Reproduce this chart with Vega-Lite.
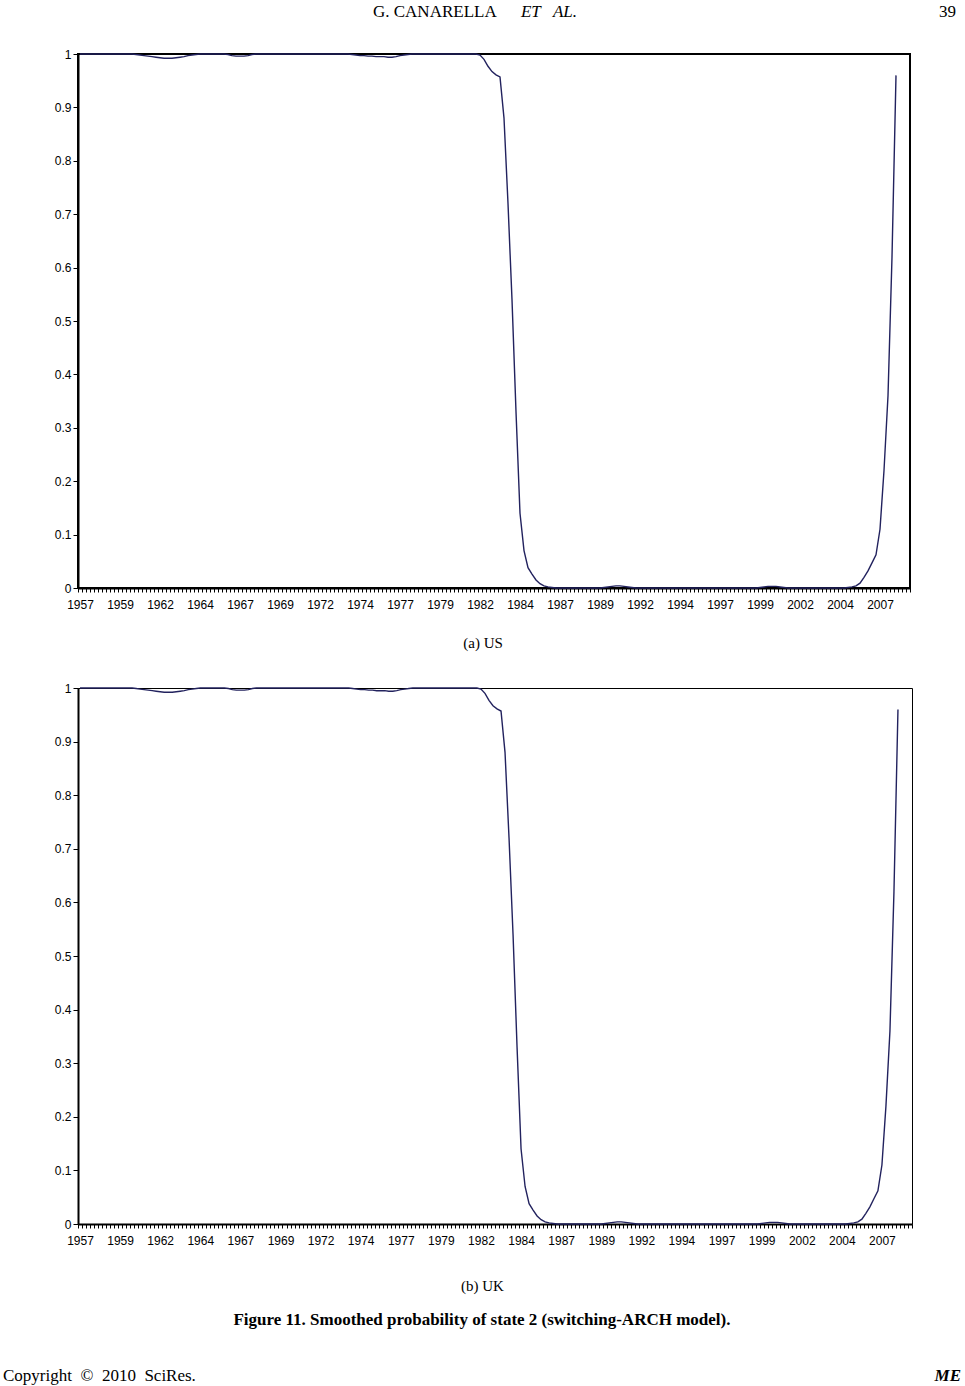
{
"$schema": "https://vega.github.io/schema/vega-lite/v6.json",
"background": "white",
"padding": {"left": 2, "top": 2, "right": 0, "bottom": 0},
"bounds": "flush",
"spacing": 100,
"config": {
 "axis": {"domainColor": "black", "domainWidth": 2, "tickColor": "black", "labelColor": "black", "labelFont": "Liberation Sans", "labelFontSize": 12, "grid": false, "title": null},
 "text": {"color": "black", "baseline": "alphabetic", "font": "Liberation Serif"}
},
"datasets": {
 "p": [
{"t":1957,"us":1,"uk":1},{"t":1957.25,"us":1,"uk":1},{"t":1957.5,"us":1,"uk":1},{"t":1957.75,"us":1,"uk":1},
{"t":1958,"us":1,"uk":1},{"t":1958.25,"us":1,"uk":1},{"t":1958.5,"us":1,"uk":1},{"t":1958.75,"us":1,"uk":1},
{"t":1959,"us":1,"uk":1},{"t":1959.25,"us":1,"uk":1},{"t":1959.5,"us":1,"uk":1},{"t":1959.75,"us":1,"uk":1},
{"t":1960,"us":1,"uk":1},{"t":1960.25,"us":1,"uk":1},{"t":1960.5,"us":0.999,"uk":0.999},{"t":1960.75,"us":0.998,"uk":0.998},
{"t":1961,"us":0.997,"uk":0.997},{"t":1961.25,"us":0.996,"uk":0.996},{"t":1961.5,"us":0.995,"uk":0.995},{"t":1961.75,"us":0.994,"uk":0.994},
{"t":1962,"us":0.993,"uk":0.993},{"t":1962.25,"us":0.992,"uk":0.992},{"t":1962.5,"us":0.992,"uk":0.992},{"t":1962.75,"us":0.992,"uk":0.992},
{"t":1963,"us":0.993,"uk":0.993},{"t":1963.25,"us":0.994,"uk":0.994},{"t":1963.5,"us":0.995,"uk":0.995},{"t":1963.75,"us":0.997,"uk":0.997},
{"t":1964,"us":0.998,"uk":0.998},{"t":1964.25,"us":0.999,"uk":0.999},{"t":1964.5,"us":1,"uk":1},{"t":1964.75,"us":1,"uk":1},
{"t":1965,"us":1,"uk":1},{"t":1965.25,"us":1,"uk":1},{"t":1965.5,"us":1,"uk":1},{"t":1965.75,"us":1,"uk":1},
{"t":1966,"us":1,"uk":1},{"t":1966.25,"us":0.999,"uk":0.999},{"t":1966.5,"us":0.997,"uk":0.997},{"t":1966.75,"us":0.996,"uk":0.996},
{"t":1967,"us":0.996,"uk":0.996},{"t":1967.25,"us":0.996,"uk":0.996},{"t":1967.5,"us":0.997,"uk":0.997},{"t":1967.75,"us":0.999,"uk":0.999},
{"t":1968,"us":1,"uk":1},{"t":1968.25,"us":1,"uk":1},{"t":1968.5,"us":1,"uk":1},{"t":1968.75,"us":1,"uk":1},
{"t":1969,"us":1,"uk":1},{"t":1969.25,"us":1,"uk":1},{"t":1969.5,"us":1,"uk":1},{"t":1969.75,"us":1,"uk":1},
{"t":1970,"us":1,"uk":1},{"t":1970.25,"us":1,"uk":1},{"t":1970.5,"us":1,"uk":1},{"t":1970.75,"us":1,"uk":1},
{"t":1971,"us":1,"uk":1},{"t":1971.25,"us":1,"uk":1},{"t":1971.5,"us":1,"uk":1},{"t":1971.75,"us":1,"uk":1},
{"t":1972,"us":1,"uk":1},{"t":1972.25,"us":1,"uk":1},{"t":1972.5,"us":1,"uk":1},{"t":1972.75,"us":1,"uk":1},
{"t":1973,"us":1,"uk":1},{"t":1973.25,"us":1,"uk":1},{"t":1973.5,"us":1,"uk":1},{"t":1973.75,"us":1,"uk":1},
{"t":1974,"us":0.999,"uk":0.999},{"t":1974.25,"us":0.998,"uk":0.998},{"t":1974.5,"us":0.997,"uk":0.997},{"t":1974.75,"us":0.997,"uk":0.997},
{"t":1975,"us":0.996,"uk":0.996},{"t":1975.25,"us":0.996,"uk":0.996},{"t":1975.5,"us":0.995,"uk":0.995},{"t":1975.75,"us":0.995,"uk":0.995},
{"t":1976,"us":0.995,"uk":0.995},{"t":1976.25,"us":0.994,"uk":0.994},{"t":1976.5,"us":0.994,"uk":0.994},{"t":1976.75,"us":0.995,"uk":0.995},
{"t":1977,"us":0.997,"uk":0.997},{"t":1977.25,"us":0.998,"uk":0.998},{"t":1977.5,"us":0.999,"uk":0.999},{"t":1977.75,"us":1,"uk":1},
{"t":1978,"us":1,"uk":1},{"t":1978.25,"us":1,"uk":1},{"t":1978.5,"us":1,"uk":1},{"t":1978.75,"us":1,"uk":1},
{"t":1979,"us":1,"uk":1},{"t":1979.25,"us":1,"uk":1},{"t":1979.5,"us":1,"uk":1},{"t":1979.75,"us":1,"uk":1},
{"t":1980,"us":1,"uk":1},{"t":1980.25,"us":1,"uk":1},{"t":1980.5,"us":1,"uk":1},{"t":1980.75,"us":1,"uk":1},
{"t":1981,"us":1,"uk":1},{"t":1981.25,"us":1,"uk":1},{"t":1981.5,"us":1,"uk":1},{"t":1981.75,"us":1,"uk":1},
{"t":1982,"us":0.998,"uk":0.998},{"t":1982.25,"us":0.99,"uk":0.99},{"t":1982.5,"us":0.977,"uk":0.977},{"t":1982.75,"us":0.967,"uk":0.967},
{"t":1983,"us":0.961,"uk":0.961},{"t":1983.25,"us":0.957,"uk":0.957},{"t":1983.5,"us":0.88,"uk":0.88},{"t":1983.75,"us":0.72,"uk":0.72},
{"t":1984,"us":0.54,"uk":0.54},{"t":1984.25,"us":0.33,"uk":0.33},{"t":1984.5,"us":0.14,"uk":0.14},{"t":1984.75,"us":0.07,"uk":0.07},
{"t":1985,"us":0.038,"uk":0.038},{"t":1985.25,"us":0.026,"uk":0.026},{"t":1985.5,"us":0.015,"uk":0.015},{"t":1985.75,"us":0.008,"uk":0.008},
{"t":1986,"us":0.004,"uk":0.004},{"t":1986.25,"us":0.002,"uk":0.002},{"t":1986.5,"us":0.001,"uk":0.001},{"t":1986.75,"us":0,"uk":0},
{"t":1987,"us":0,"uk":0},{"t":1987.25,"us":0,"uk":0},{"t":1987.5,"us":0,"uk":0},{"t":1987.75,"us":0,"uk":0},
{"t":1988,"us":0,"uk":0},{"t":1988.25,"us":0,"uk":0},{"t":1988.5,"us":0,"uk":0},{"t":1988.75,"us":0,"uk":0},
{"t":1989,"us":0,"uk":0},{"t":1989.25,"us":0,"uk":0},{"t":1989.5,"us":0,"uk":0},{"t":1989.75,"us":0.001,"uk":0.001},
{"t":1990,"us":0.002,"uk":0.002},{"t":1990.25,"us":0.003,"uk":0.003},{"t":1990.5,"us":0.004,"uk":0.004},{"t":1990.75,"us":0.004,"uk":0.004},
{"t":1991,"us":0.003,"uk":0.003},{"t":1991.25,"us":0.002,"uk":0.002},{"t":1991.5,"us":0.001,"uk":0.001},{"t":1991.75,"us":0,"uk":0},
{"t":1992,"us":0,"uk":0},{"t":1992.25,"us":0,"uk":0},{"t":1992.5,"us":0,"uk":0},{"t":1992.75,"us":0,"uk":0},
{"t":1993,"us":0,"uk":0},{"t":1993.25,"us":0,"uk":0},{"t":1993.5,"us":0,"uk":0},{"t":1993.75,"us":0,"uk":0},
{"t":1994,"us":0,"uk":0},{"t":1994.25,"us":0,"uk":0},{"t":1994.5,"us":0,"uk":0},{"t":1994.75,"us":0,"uk":0},
{"t":1995,"us":0,"uk":0},{"t":1995.25,"us":0,"uk":0},{"t":1995.5,"us":0,"uk":0},{"t":1995.75,"us":0,"uk":0},
{"t":1996,"us":0,"uk":0},{"t":1996.25,"us":0,"uk":0},{"t":1996.5,"us":0,"uk":0},{"t":1996.75,"us":0,"uk":0},
{"t":1997,"us":0,"uk":0},{"t":1997.25,"us":0,"uk":0},{"t":1997.5,"us":0,"uk":0},{"t":1997.75,"us":0,"uk":0},
{"t":1998,"us":0,"uk":0},{"t":1998.25,"us":0,"uk":0},{"t":1998.5,"us":0,"uk":0},{"t":1998.75,"us":0,"uk":0},
{"t":1999,"us":0,"uk":0},{"t":1999.25,"us":0,"uk":0},{"t":1999.5,"us":0.001,"uk":0.001},{"t":1999.75,"us":0.002,"uk":0.002},
{"t":2000,"us":0.003,"uk":0.003},{"t":2000.25,"us":0.003,"uk":0.003},{"t":2000.5,"us":0.003,"uk":0.003},{"t":2000.75,"us":0.002,"uk":0.002},
{"t":2001,"us":0.001,"uk":0.001},{"t":2001.25,"us":0,"uk":0},{"t":2001.5,"us":0,"uk":0},{"t":2001.75,"us":0,"uk":0},
{"t":2002,"us":0,"uk":0},{"t":2002.25,"us":0,"uk":0},{"t":2002.5,"us":0,"uk":0},{"t":2002.75,"us":0,"uk":0},
{"t":2003,"us":0,"uk":0},{"t":2003.25,"us":0,"uk":0},{"t":2003.5,"us":0,"uk":0},{"t":2003.75,"us":0,"uk":0},
{"t":2004,"us":0,"uk":0},{"t":2004.25,"us":0,"uk":0},{"t":2004.5,"us":0,"uk":0},{"t":2004.75,"us":0,"uk":0},
{"t":2005,"us":0.001,"uk":0.001},{"t":2005.25,"us":0.002,"uk":0.002},{"t":2005.5,"us":0.004,"uk":0.004},{"t":2005.75,"us":0.009,"uk":0.009},
{"t":2006,"us":0.02,"uk":0.02},{"t":2006.25,"us":0.032,"uk":0.032},{"t":2006.5,"us":0.047,"uk":0.047},{"t":2006.75,"us":0.062,"uk":0.062},
{"t":2007,"us":0.11,"uk":0.11},{"t":2007.25,"us":0.22,"uk":0.22},{"t":2007.5,"us":0.36,"uk":0.36},{"t":2007.75,"us":0.62,"uk":0.62},
{"t":2008,"us":0.96,"uk":0.96}
 ]
},
"vconcat": [
 {
  "width": 832, "height": 534,
  "view": {"stroke": "black", "strokeWidth": 2},
  "layer": [
   {
    "data": {"name": "p"},
    "mark": {"type": "line", "color": "#22225e", "strokeWidth": 1.4, "clip": false},
    "encoding": {
     "x": {"field": "t", "type": "quantitative",
      "scale": {"domain": [1956.875, 2008.875], "nice": false, "zero": false},
      "axis": {"values": [1956.875,1957.125,1957.375,1957.625,1957.875,1958.125,1958.375,1958.625,1958.875,1959.125,1959.375,1959.625,1959.875,1960.125,1960.375,1960.625,1960.875,1961.125,1961.375,1961.625,1961.875,1962.125,1962.375,1962.625,1962.875,1963.125,1963.375,1963.625,1963.875,1964.125,1964.375,1964.625,1964.875,1965.125,1965.375,1965.625,1965.875,1966.125,1966.375,1966.625,1966.875,1967.125,1967.375,1967.625,1967.875,1968.125,1968.375,1968.625,1968.875,1969.125,1969.375,1969.625,1969.875,1970.125,1970.375,1970.625,1970.875,1971.125,1971.375,1971.625,1971.875,1972.125,1972.375,1972.625,1972.875,1973.125,1973.375,1973.625,1973.875,1974.125,1974.375,1974.625,1974.875,1975.125,1975.375,1975.625,1975.875,1976.125,1976.375,1976.625,1976.875,1977.125,1977.375,1977.625,1977.875,1978.125,1978.375,1978.625,1978.875,1979.125,1979.375,1979.625,1979.875,1980.125,1980.375,1980.625,1980.875,1981.125,1981.375,1981.625,1981.875,1982.125,1982.375,1982.625,1982.875,1983.125,1983.375,1983.625,1983.875,1984.125,1984.375,1984.625,1984.875,1985.125,1985.375,1985.625,1985.875,1986.125,1986.375,1986.625,1986.875,1987.125,1987.375,1987.625,1987.875,1988.125,1988.375,1988.625,1988.875,1989.125,1989.375,1989.625,1989.875,1990.125,1990.375,1990.625,1990.875,1991.125,1991.375,1991.625,1991.875,1992.125,1992.375,1992.625,1992.875,1993.125,1993.375,1993.625,1993.875,1994.125,1994.375,1994.625,1994.875,1995.125,1995.375,1995.625,1995.875,1996.125,1996.375,1996.625,1996.875,1997.125,1997.375,1997.625,1997.875,1998.125,1998.375,1998.625,1998.875,1999.125,1999.375,1999.625,1999.875,2000.125,2000.375,2000.625,2000.875,2001.125,2001.375,2001.625,2001.875,2002.125,2002.375,2002.625,2002.875,2003.125,2003.375,2003.625,2003.875,2004.125,2004.375,2004.625,2004.875,2005.125,2005.375,2005.625,2005.875,2006.125,2006.375,2006.625,2006.875,2007.125,2007.375,2007.625,2007.875,2008.125,2008.375,2008.625,2008.875],
       "tickCount": 1000,
       "labelExpr": "((datum.value + 0.125 - 1957) % 2.5 == 0) ? ('' + floor(datum.value + 0.125)) : ''",
       "labelOffset": 2, "labelFlush": false, "labelOverlap": false, "labelBound": false,
       "tickSize": 4, "labelPadding": 7}},
     "y": {"field": "us", "type": "quantitative",
      "scale": {"domain": [0, 1], "nice": false, "zero": false},
      "axis": {"values": [0,0.1,0.2,0.3,0.4,0.5,0.6,0.7,0.8,0.9,1], "tickCount": 100, "format": "~g", "tickSize": 5, "labelPadding": 2}}
    }
   },
   {"data": {"values": [{}]}, "mark": {"type": "text", "text": "G. CANARELLA", "align": "left", "fontSize": 17},
    "encoding": {"x": {"datum": 1975.31, "type": "quantitative"}, "y": {"datum": 1.069, "type": "quantitative"}}},
   {"data": {"values": [{}]}, "mark": {"type": "text", "text": "ET", "align": "left", "fontSize": 17, "fontStyle": "italic"},
    "encoding": {"x": {"datum": 1984.56, "type": "quantitative"}, "y": {"datum": 1.069, "type": "quantitative"}}},
   {"data": {"values": [{}]}, "mark": {"type": "text", "text": "AL.", "align": "left", "fontSize": 17, "fontStyle": "italic"},
    "encoding": {"x": {"datum": 1986.56, "type": "quantitative"}, "y": {"datum": 1.069, "type": "quantitative"}}},
   {"data": {"values": [{}]}, "mark": {"type": "text", "text": "39", "align": "right", "fontSize": 17},
    "encoding": {"x": {"datum": 2011.75, "type": "quantitative"}, "y": {"datum": 1.069, "type": "quantitative"}}},
   {"data": {"values": [{}]}, "mark": {"type": "text", "text": "(a) US", "align": "center", "fontSize": 15},
    "encoding": {"x": {"datum": 1982.19, "type": "quantitative"}, "y": {"datum": -0.112, "type": "quantitative"}}}
  ]
 },
 {
  "width": 834, "height": 536,
  "view": {"stroke": "black", "strokeWidth": 1},
  "layer": [
   {
    "data": {"name": "p"},
    "mark": {"type": "line", "color": "#22225e", "strokeWidth": 1.4, "clip": false},
    "encoding": {
     "x": {"field": "t", "type": "quantitative",
      "scale": {"domain": [1956.875, 2008.875], "nice": false, "zero": false},
      "axis": {"values": [1956.875,1957.125,1957.375,1957.625,1957.875,1958.125,1958.375,1958.625,1958.875,1959.125,1959.375,1959.625,1959.875,1960.125,1960.375,1960.625,1960.875,1961.125,1961.375,1961.625,1961.875,1962.125,1962.375,1962.625,1962.875,1963.125,1963.375,1963.625,1963.875,1964.125,1964.375,1964.625,1964.875,1965.125,1965.375,1965.625,1965.875,1966.125,1966.375,1966.625,1966.875,1967.125,1967.375,1967.625,1967.875,1968.125,1968.375,1968.625,1968.875,1969.125,1969.375,1969.625,1969.875,1970.125,1970.375,1970.625,1970.875,1971.125,1971.375,1971.625,1971.875,1972.125,1972.375,1972.625,1972.875,1973.125,1973.375,1973.625,1973.875,1974.125,1974.375,1974.625,1974.875,1975.125,1975.375,1975.625,1975.875,1976.125,1976.375,1976.625,1976.875,1977.125,1977.375,1977.625,1977.875,1978.125,1978.375,1978.625,1978.875,1979.125,1979.375,1979.625,1979.875,1980.125,1980.375,1980.625,1980.875,1981.125,1981.375,1981.625,1981.875,1982.125,1982.375,1982.625,1982.875,1983.125,1983.375,1983.625,1983.875,1984.125,1984.375,1984.625,1984.875,1985.125,1985.375,1985.625,1985.875,1986.125,1986.375,1986.625,1986.875,1987.125,1987.375,1987.625,1987.875,1988.125,1988.375,1988.625,1988.875,1989.125,1989.375,1989.625,1989.875,1990.125,1990.375,1990.625,1990.875,1991.125,1991.375,1991.625,1991.875,1992.125,1992.375,1992.625,1992.875,1993.125,1993.375,1993.625,1993.875,1994.125,1994.375,1994.625,1994.875,1995.125,1995.375,1995.625,1995.875,1996.125,1996.375,1996.625,1996.875,1997.125,1997.375,1997.625,1997.875,1998.125,1998.375,1998.625,1998.875,1999.125,1999.375,1999.625,1999.875,2000.125,2000.375,2000.625,2000.875,2001.125,2001.375,2001.625,2001.875,2002.125,2002.375,2002.625,2002.875,2003.125,2003.375,2003.625,2003.875,2004.125,2004.375,2004.625,2004.875,2005.125,2005.375,2005.625,2005.875,2006.125,2006.375,2006.625,2006.875,2007.125,2007.375,2007.625,2007.875,2008.125,2008.375,2008.625,2008.875],
       "tickCount": 1000,
       "labelExpr": "((datum.value + 0.125 - 1957) % 2.5 == 0) ? ('' + floor(datum.value + 0.125)) : ''",
       "labelOffset": 2, "labelFlush": false, "labelOverlap": false, "labelBound": false,
       "tickSize": 4, "labelPadding": 7}},
     "y": {"field": "uk", "type": "quantitative",
      "scale": {"domain": [0, 1], "nice": false, "zero": false},
      "axis": {"values": [0,0.1,0.2,0.3,0.4,0.5,0.6,0.7,0.8,0.9,1], "tickCount": 100, "format": "~g", "tickSize": 5, "labelPadding": 2}}
    }
   },
   {"data": {"values": [{}]}, "mark": {"type": "text", "text": "(b) UK", "align": "center", "fontSize": 15},
    "encoding": {"x": {"datum": 1982.09, "type": "quantitative"}, "y": {"datum": -0.125, "type": "quantitative"}}},
   {"data": {"values": [{}]}, "mark": {"type": "text", "text": "Figure 11. Smoothed probability of state 2 (switching-ARCH model).", "align": "center", "fontSize": 17, "fontWeight": "bold"},
    "encoding": {"x": {"datum": 1982.06, "type": "quantitative"}, "y": {"datum": -0.188, "type": "quantitative"}}},
   {"data": {"values": [{}]}, "mark": {"type": "text", "text": "Copyright\u00a0\u00a0©\u00a0\u00a02010\u00a0\u00a0SciRes.", "align": "left", "fontSize": 17},
    "encoding": {"x": {"datum": 1952.2, "type": "quantitative"}, "y": {"datum": -0.293, "type": "quantitative"}}},
   {"data": {"values": [{}]}, "mark": {"type": "text", "text": "ME", "align": "right", "fontSize": 17, "fontWeight": "bold", "fontStyle": "italic"},
    "encoding": {"x": {"datum": 2011.93, "type": "quantitative"}, "y": {"datum": -0.293, "type": "quantitative"}}}
  ]
 }
]
}
